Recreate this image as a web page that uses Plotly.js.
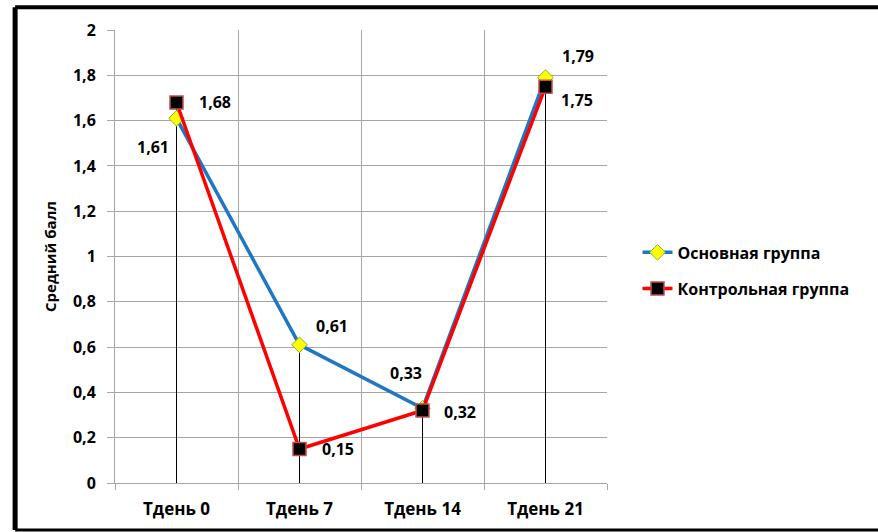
<!DOCTYPE html>
<html>
<head>
<meta charset="utf-8">
<script src="https://cdn.plot.ly/plotly-3.0.1.min.js"></script>
<style>html,body{margin:0;padding:0;background:#fff;}#chart{width:878px;height:532px;}</style>
</head>
<body>
<div id="chart"></div>
<script>
const categories = ['Тдень 0', 'Тдень 7', 'Тдень 14', 'Тдень 21'];
const mainGroup = [1.61, 0.61, 0.33, 1.79];
const controlGroup = [1.68, 0.15, 0.32, 1.75];
const mainName = 'Основная группа';
const controlName = 'Контрольная группа';
const yTitle = 'Средний балл';

const FONT = '"Open Sans", Lato, sans-serif';
const SIZE = 17;

// label offsets (pixels) for each point: style only
const mainShift = [[-24, -29], [32, 19], [-17, 35], [32, 22]];
const controlShift = [[38, 0], [38, 0], [37, -1], [31, -13]];

// drop lines from the higher point of each category down to zero
const dropX = [], dropY = [];
categories.forEach((c, i) => {
  dropX.push(c, c, null);
  dropY.push(0, Math.max(mainGroup[i], controlGroup[i]), null);
});

const traces = [
  {
    x: dropX, y: dropY, mode: 'lines', type: 'scatter',
    line: {color: '#000', width: 1}, showlegend: false, hoverinfo: 'skip'
  },
  {
    x: categories, y: mainGroup, name: mainName, type: 'scatter',
    mode: 'lines+markers',
    line: {color: '#1F77C4', width: 3.5},
    marker: {symbol: 'diamond', size: 12, color: '#FFFF00', line: {color: '#7FB13F', width: 1}},
    legend: 'legend', cliponaxis: false
  },
  {
    x: categories, y: controlGroup, name: controlName, type: 'scatter',
    mode: 'lines+markers',
    line: {color: '#FF0000', width: 3.5},
    marker: {symbol: 'square', size: 13, color: '#000', line: {color: '#C0504D', width: 1.5}},
    legend: 'legend2', cliponaxis: false
  }
];

const fmt = v => v.toFixed(2).replace('.', ',');
const labelFont = {family: FONT, size: 16, color: '#000', weight: 'bold'};
const annotations = [];
categories.forEach((c, i) => {
  annotations.push({x: c, y: mainGroup[i], text: fmt(mainGroup[i]), showarrow: false,
    xshift: mainShift[i][0], yshift: mainShift[i][1], font: labelFont});
  annotations.push({x: c, y: controlGroup[i], text: fmt(controlGroup[i]), showarrow: false,
    xshift: controlShift[i][0], yshift: controlShift[i][1], font: labelFont});
});

const frameLine = (x0, y0, x1, y1, w) => ({
  type: 'line', xref: 'paper', yref: 'paper', x0, y0, x1, y1,
  line: {color: '#000', width: w}, layer: 'above'
});

const layout = {
  width: 878, height: 532,
  margin: {l: 115, r: 271, t: 30, b: 49},
  paper_bgcolor: '#fff', plot_bgcolor: '#fff',
  separators: ', ',
  font: {family: FONT, size: SIZE, color: '#000', weight: 'bold'},
  xaxis: {
    type: 'category', range: [-0.5, 3.5], tickson: 'boundaries', showgrid: true,
    gridcolor: '#A6A6A6', gridwidth: 1,
    ticks: 'outside', ticklen: 6, tickcolor: '#A6A6A6',
    showline: true, linecolor: '#A6A6A6', linewidth: 1,
    zeroline: false, ticklabelstandoff: 11,
    tickfont: {family: FONT, size: SIZE, color: '#000', weight: 'bold'},
    fixedrange: true
  },
  yaxis: {
    range: [0, 2], dtick: 0.2, showgrid: true, gridcolor: '#A6A6A6', gridwidth: 1,
    ticks: 'outside', ticklen: 7, tickcolor: '#A6A6A6',
    showline: true, linecolor: '#A6A6A6', linewidth: 1,
    zeroline: false, ticklabelstandoff: 8,
    tickfont: {family: FONT, size: 16, color: '#000', weight: 'bold'},
    title: {text: yTitle, font: {family: FONT, size: 15, color: '#000', weight: 'bold'}, standoff: 12},
    fixedrange: true
  },
  legend: {
    x: 1.062, y: 0.509, xanchor: 'left', yanchor: 'middle',
    bgcolor: 'rgba(0,0,0,0)', font: {family: FONT, size: 16, color: '#000', weight: 'bold'}
  },
  legend2: {
    x: 1.062, y: 0.429, xanchor: 'left', yanchor: 'middle',
    bgcolor: 'rgba(0,0,0,0)', font: {family: FONT, size: 16, color: '#000', weight: 'bold'}
  },
  annotations: annotations,
  shapes: [
    frameLine(-0.203, 1.05, 1.56, 1.05, 4),
    frameLine(-0.203, 1.05, -0.203, -0.1035, 5),
    frameLine(-0.203, -0.1035, 1.56, -0.1035, 3)
  ],
  showlegend: true
};

Plotly.newPlot('chart', traces, layout, {displayModeBar: false, staticPlot: true});
</script>
</body>
</html>
